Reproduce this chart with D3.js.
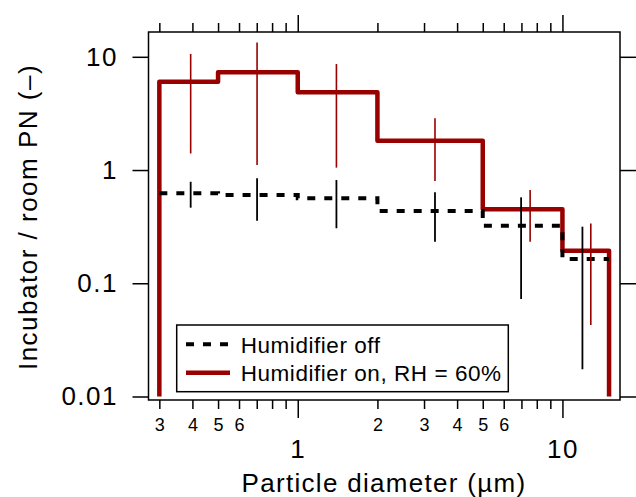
<!DOCTYPE html>
<html>
<head>
<meta charset="utf-8">
<script src="https://cdn.jsdelivr.net/npm/d3@7"></script>
<style>
  body { margin: 0; background: #fff; }
  text { font-family: "Liberation Sans", Arial, sans-serif; fill: #000; }
  .axis path { display: none; }
  .axis line { stroke: #000; stroke-width: 1.5; }
</style>
</head>
<body>
<script>
// Bin edges (µm) and incubator / room PN ratios
var binEdges = [0.3, 0.5, 1, 2, 5, 10, 15];
var offRatio = [0.623, 0.601, 0.562, 0.435, 0.322, 0.164];
var onRatio  = [6.02, 7.29, 4.86, 1.81, 0.450, 0.194];

// error bars: x position, low, high
var offErrX  = [0.394, 0.702, 1.40, 3.30, 6.98, 11.9];
var offLow   = [0.465, 0.357, 0.306, 0.233, 0.0726, 0.0174];
var offHigh  = [0.788, 0.845, 0.816, 0.636, 0.574, 0.316];
var onErrX   = [0.394, 0.702, 1.40, 3.30, 7.55, 12.8];
var onLow    = [1.40, 1.11, 1.05, 0.80, 0.233, 0.0428];
var onHigh   = [10.6, 13.4, 8.63, 2.86, 0.666, 0.338];

// axis ticks
var xMinorTicks = [0.3, 0.4, 0.5, 0.6, 0.7, 0.8, 0.9, 2, 3, 4, 5, 6, 7, 8, 9];
var xMinorLabels = {0.3: "3", 0.4: "4", 0.5: "5", 0.6: "6", 2: "2", 3: "3", 4: "4", 5: "5", 6: "6"};
var xMajorTicks = [1, 10];
var yTicks = [0.01, 0.1, 1, 10];
var yTickLabels = ["0.01", "0.1", "1", "10"];

var width = 636, height = 497;
var frame = {left: 148.5, right: 620, top: 32, bottom: 400};

var svg = d3.select("body").append("svg")
    .attr("width", width)
    .attr("height", height);

var xScale = d3.scaleLog().domain([0.273, 16.5]).range([frame.left, frame.right]);
var yScale = d3.scaleLog().domain([0.01, 10]).range([396.5, 56.8]);

// frame
svg.append("rect")
   .attr("x", frame.left).attr("y", frame.top)
   .attr("width", frame.right - frame.left)
   .attr("height", frame.bottom - frame.top)
   .attr("fill", "none")
   .attr("stroke", "#000")
   .attr("stroke-width", 1.5);

// bottom axis - minor ticks with small labels
svg.append("g")
   .attr("class", "axis")
   .attr("transform", "translate(0," + frame.bottom + ")")
   .call(d3.axisBottom(xScale).tickValues(xMinorTicks).tickSize(9).tickPadding(9)
        .tickFormat(d => xMinorLabels[d] || ""))
   .selectAll("text").style("font-size", "18px");

// bottom axis - major ticks
svg.append("g")
   .attr("class", "axis")
   .attr("transform", "translate(0," + frame.bottom + ")")
   .call(d3.axisBottom(xScale).tickValues(xMajorTicks).tickSize(18).tickPadding(21.5)
        .tickFormat(d => d3.format("d")(d)))
   .selectAll("text").style("font-size", "26px").style("letter-spacing", "1.5px");

// top axis
svg.append("g")
   .attr("class", "axis")
   .attr("transform", "translate(0," + frame.top + ")")
   .call(d3.axisTop(xScale).tickValues(xMinorTicks).tickSize(9).tickFormat(""));
svg.append("g")
   .attr("class", "axis")
   .attr("transform", "translate(0," + frame.top + ")")
   .call(d3.axisTop(xScale).tickValues(xMajorTicks).tickSize(17).tickFormat(""));

// left axis
svg.append("g")
   .attr("class", "axis")
   .attr("transform", "translate(" + frame.left + ",0)")
   .call(d3.axisLeft(yScale).tickValues(yTicks).tickSize(16).tickPadding(14.5)
        .tickFormat((d, i) => yTickLabels[i]))
   .selectAll("text").style("font-size", "26px").style("letter-spacing", "1.5px");

// right axis
svg.append("g")
   .attr("class", "axis")
   .attr("transform", "translate(" + frame.right + ",0)")
   .call(d3.axisRight(yScale).tickValues(yTicks).tickSize(16).tickFormat(""));

// step lines
var stepLine = d3.line()
    .x(d => xScale(d[0]))
    .y(d => yScale(d[1]))
    .curve(d3.curveStepAfter);

var onPts = [[binEdges[0], 0.01]];
onRatio.forEach((v, i) => onPts.push([binEdges[i], v]));
onPts.push([binEdges[binEdges.length - 1], onRatio[onRatio.length - 1]]);
onPts.push([binEdges[binEdges.length - 1], 0.01]);

var offPts = offRatio.map((v, i) => [binEdges[i], v]);
offPts.push([binEdges[binEdges.length - 1], offRatio[offRatio.length - 1]]);

svg.append("path")
   .attr("d", stepLine(onPts))
   .attr("fill", "none")
   .attr("stroke", "#990000")
   .attr("stroke-width", 4.5)
   .attr("stroke-linejoin", "round");

svg.append("path")
   .attr("d", stepLine(offPts))
   .attr("fill", "none")
   .attr("stroke", "#000")
   .attr("stroke-width", 4)
   .attr("stroke-dasharray", "8,9");

// error bars
svg.selectAll(".err-off")
   .data(offErrX)
   .enter().append("line")
   .attr("class", "err-off")
   .attr("x1", d => xScale(d)).attr("x2", d => xScale(d))
   .attr("y1", (d, i) => yScale(offLow[i]))
   .attr("y2", (d, i) => yScale(offHigh[i]))
   .attr("stroke", "#000")
   .attr("stroke-width", 1.8);

svg.selectAll(".err-on")
   .data(onErrX)
   .enter().append("line")
   .attr("class", "err-on")
   .attr("x1", d => xScale(d)).attr("x2", d => xScale(d))
   .attr("y1", (d, i) => yScale(onLow[i]))
   .attr("y2", (d, i) => yScale(onHigh[i]))
   .attr("stroke", "#990000")
   .attr("stroke-width", 1.6);

// axis titles
svg.append("text")
   .attr("x", 384).attr("y", 492)
   .attr("text-anchor", "middle")
   .style("font-size", "26px")
   .style("letter-spacing", "1.3px")
   .text("Particle diameter (µm)");

svg.append("text")
   .attr("transform", "translate(37,217) rotate(-90)")
   .attr("text-anchor", "middle")
   .style("font-size", "26px")
   .style("letter-spacing", "1.5px")
   .text("Incubator / room PN (–)");

// legend
var legend = svg.append("g");
legend.append("rect")
      .attr("x", 176.7).attr("y", 325)
      .attr("width", 331.6).attr("height", 66.7)
      .attr("fill", "#fff")
      .attr("stroke", "#000")
      .attr("stroke-width", 1.5);

var legendItems = [
  {label: "Humidifier off", color: "#000", dash: "8,9", w: 4, y: 344.3},
  {label: "Humidifier on, RH = 60%", color: "#990000", dash: null, w: 4.5, y: 372.7}
];

legendItems.forEach(d => {
  legend.append("line")
        .attr("x1", 186).attr("x2", 230)
        .attr("y1", d.y).attr("y2", d.y)
        .attr("stroke", d.color)
        .attr("stroke-width", d.w)
        .attr("stroke-dasharray", d.dash);
  legend.append("text")
        .attr("x", 240.7).attr("y", d.y + 8.5)
        .style("font-size", "22.5px")
        .style("letter-spacing", "0.55px")
        .text(d.label);
});
</script>
</body>
</html>
